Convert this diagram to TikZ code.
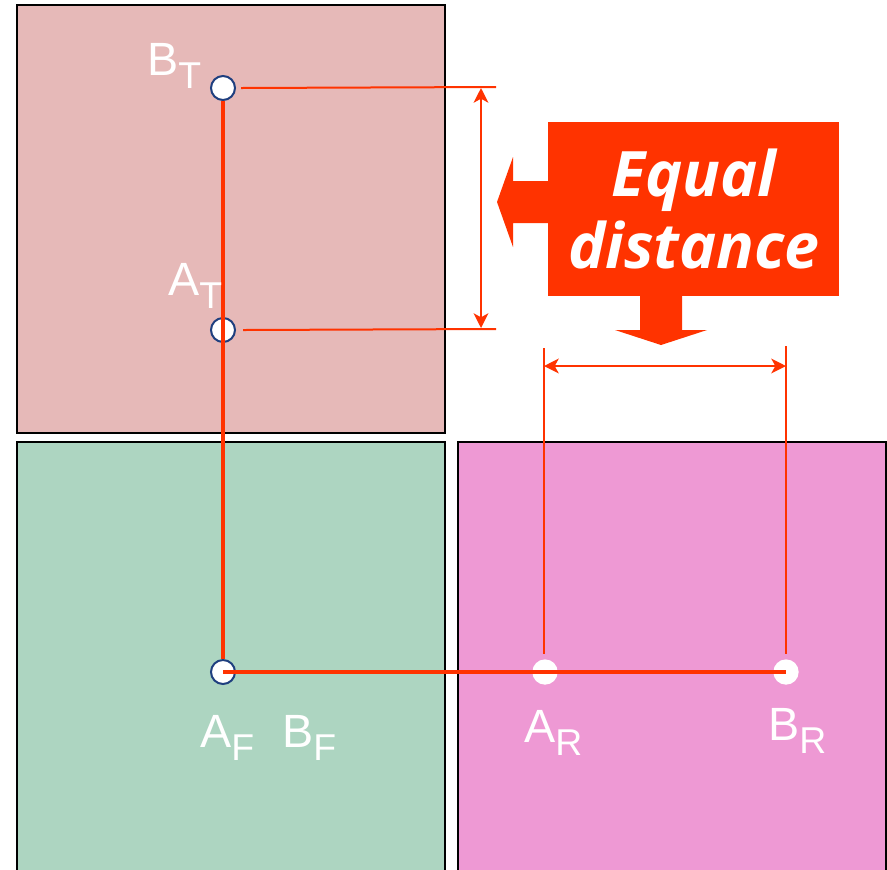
\documentclass[tikz,border=0pt]{standalone}
\usepackage{fontspec}
\setmainfont{Liberation Sans}
\newfontfamily\calloutfont{Open Sans}
\usetikzlibrary{arrows.meta,positioning,calc}
\definecolor{pnltop}{HTML}{E6B9B8}
\definecolor{pnlfront}{HTML}{ADD5C1}
\definecolor{pnlright}{HTML}{EE99D4}
\definecolor{ptred}{HTML}{FF3300}
\definecolor{ptnavy}{HTML}{1F3F7F}
\newcommand{\ptlbl}[2]{#1\raisebox{-10pt}{\fontsize{28}{28}\selectfont #2}}
\tikzset{
  panel/.style={draw=black,line width=1.5pt},
  hollowdot/.style={circle,fill=white,draw=ptnavy,line width=1.5pt,
                    minimum size=18pt,inner sep=0pt},
  soliddot/.style={circle,fill=white,minimum size=19pt,inner sep=0pt},
  trace/.style={draw=ptred,line width=3.4pt},
  leader/.style={draw=ptred,line width=1.5pt},
  dimline/.style={{Stealth[length=11pt,width=11pt,inset=3pt]}-{Stealth[length=11pt,width=11pt,inset=3pt]},
                  draw=ptred,line width=1.9pt},
  ptname/.style={anchor=base west,inner sep=0pt,text=white,
                 font=\fontsize{35}{35}\selectfont},
  callouttext/.style={text=white,align=center,inner sep=0pt,
                      font=\calloutfont\bfseries\itshape\fontsize{47}{54}\selectfont},
}
\begin{document}
\begin{tikzpicture}[x=0.75pt,y=-0.75pt]
\useasboundingbox (0,0) rectangle (887,869);
% views
\begin{scope}
\clip (0,0) rectangle (887,869);
\filldraw[fill=pnltop,panel] (17,5) rectangle (445,433);
\filldraw[fill=pnlfront,panel] (17,442) rectangle (445,890);
\filldraw[fill=pnlright,panel] (458,442) rectangle (886,890);
\end{scope}
% projected points
\node[hollowdot] (BT) at (223,88) {};
\node[hollowdot] (AT) at (223,330) {};
\node[hollowdot] (AF) at (223,672) {};
\node[soliddot] (AR) at (545,672) {};
\node[soliddot] (BR) at (786,672) {};
\draw[trace] (BT) -- (AF);
\draw[trace] (AF.center) -- (BR.center);
% labels
\node[ptname] (lBT) at (147,75) {\ptlbl{B}{T}};
\node[ptname] (lAT) at (168,295) {\ptlbl{A}{T}};
\node[ptname] (lAF) at (200,747) {\ptlbl{A}{F}};
\node[ptname] (lBF) at (282,747) {\ptlbl{B}{F}};
\node[ptname] (lAR) at (524,742) {\ptlbl{A}{R}};
\node[ptname] (lBR) at (768,740) {\ptlbl{B}{R}};
% dimension in top view
\coordinate (BTend) at (496,87);
\coordinate (ATend) at (496,329);
\draw[leader] ($(BT.east)+(5,0)$) -- (BTend);
\draw[leader] ($(AT.east)+(7,0)$) -- (ATend);
\coordinate (dimT) at (481,88);
\coordinate (dimB) at (481,328);
\draw[dimline] (dimT) -- (dimB);
% dimension in right view
\coordinate (ARtop) at (544,348);
\coordinate (BRtop) at (786,346);
\draw[leader] (ARtop) -- ($(AR.north)+(-1,-5)$);
\draw[leader] (BRtop) -- ($(BR.north)+(0,-5)$);
\coordinate (dimL) at (544,366);
\coordinate (dimR) at (786,366);
\draw[dimline] (dimL) -- (dimR);
% callout
\fill[ptred] (548,122) rectangle (839,296);
\fill[ptred] (549,181) -- (513,181) -- (513,157) -- (497,202) -- (513,247)
  -- (513,223) -- (549,223) -- cycle;
\fill[ptred] (640,295) -- (640,330) -- (615,330) -- (661,345) -- (707,330)
  -- (682,330) -- (682,295) -- cycle;
\node[callouttext] (eqtxt) at (694,209) {Equal\\distance};
\end{tikzpicture}
\end{document}
